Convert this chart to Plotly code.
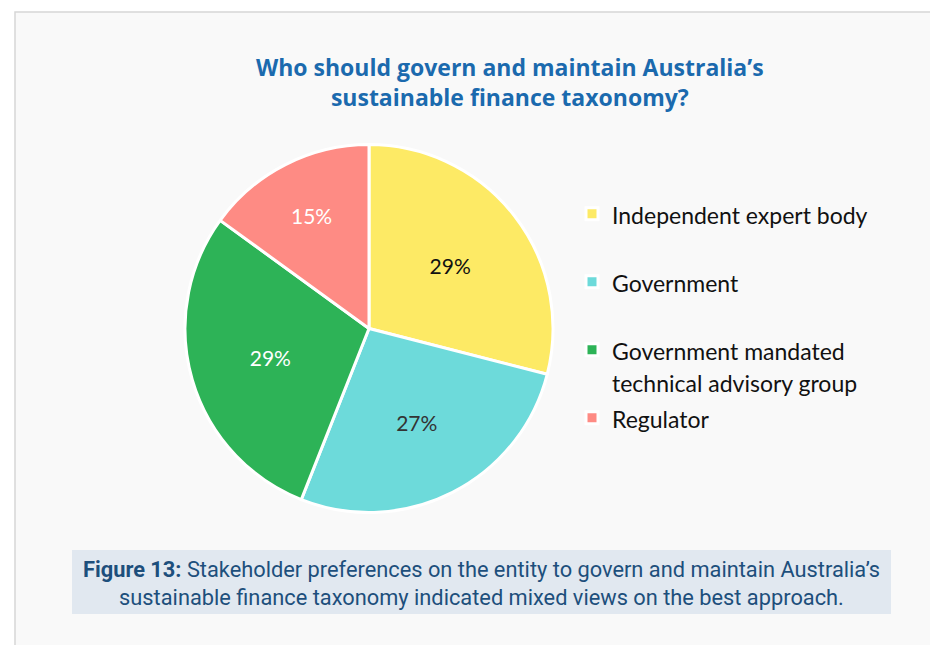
import plotly.graph_objects as go

W, H = 930, 645

categories = ["Independent expert body", "Government",
              "Government mandated<br>technical advisory group", "Regulator"]
values = [29, 27, 29, 15]
colors = ["#FDEA65", "#6DDADA", "#2DB357", "#FE8B84"]
text_colors = ["#111111", "#333333", "#FFFFFF", "#FFFFFF"]

title_lines = ["Who should govern and maintain Australia\u2019s",
               "sustainable finance taxonomy?"]
caption_bold = "Figure 13:"
caption_rest = [" Stakeholder preferences on the entity to govern and maintain Australia\u2019s",
                "sustainable finance taxonomy indicated mixed views on the best approach."]

def px(x):
    return x / W

def py(y):
    return (H - y) / H

# legend entries: visible text at 23px; single-line entries get a blank second line
# so every entry occupies the same height as in the reference
def legend_label(lbl):
    parts = lbl.split("<br>")
    body = "<br>".join("<span style='font-size:23px'>" + p + "</span>" for p in parts)
    if len(parts) == 1:
        body += "<br> "
    return body

legend_labels = [legend_label(c) for c in categories]

cx, cy, R = 369, 328.5, 184

fig = go.Figure()
fig.add_trace(go.Pie(
    labels=legend_labels,
    values=values,
    sort=False,
    direction="clockwise",
    rotation=0,
    marker=dict(colors=colors, line=dict(color="white", width=3)),
    texttemplate="%{percent:.0%}",
    textposition="inside",
    insidetextorientation="horizontal",
    insidetextfont=dict(family="Lato", size=21, color=text_colors),
    hoverinfo="percent",
    domain=dict(x=[px(cx - R), px(cx + R)], y=[py(cy + R), py(cy - R)]),
    showlegend=True,
))

shapes = [
    # panel background
    dict(type="rect", xref="paper", yref="paper",
         x0=px(15), x1=px(W + 5), y0=py(H + 5), y1=py(12),
         fillcolor="#F9F9F9", line=dict(color="#D6D6D6", width=1.5), layer="below"),
    # caption box
    dict(type="rect", xref="paper", yref="paper",
         x0=px(72), x1=px(891), y0=py(614), y1=py(550),
         fillcolor="#E1E8F0", line=dict(width=0), layer="below"),
]

annotations = [
    dict(text="<b>" + title_lines[0] + "<br>" + title_lines[1] + "</b>",
         x=px(510), y=py(82), xref="paper", yref="paper",
         xanchor="center", yanchor="middle", showarrow=False,
         font=dict(family="Open Sans", size=23, color="#1B6AAE")),
    dict(text="<b>" + caption_bold + "</b>" + caption_rest[0] + "<br>" + caption_rest[1],
         x=px(481), y=py(583), xref="paper", yref="paper",
         xanchor="center", yanchor="middle", showarrow=False,
         font=dict(family="Roboto", size=21.8, color="#1D4F7C")),
]

fig.update_layout(
    width=W, height=H,
    margin=dict(l=0, r=0, t=0, b=0),
    paper_bgcolor="white",
    plot_bgcolor="white",
    shapes=shapes,
    annotations=annotations,
    legend=dict(x=px(572), y=py(191), xanchor="left", yanchor="top",
                valign="top", bgcolor="rgba(0,0,0,0)",
                font=dict(family="Lato", size=25, color="#111111"),
                itemclick=False, itemdoubleclick=False),
)

fig.write_html("out.html", config={"displayModeBar": False},
               post_script="document.body.style.margin='0px';")
